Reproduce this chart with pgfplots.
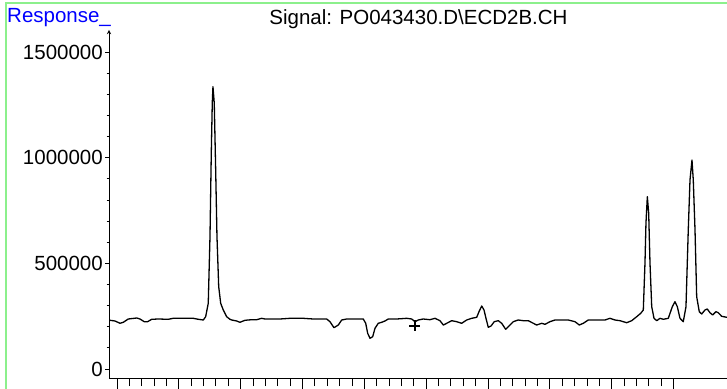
\documentclass[border=0pt]{standalone}
\usepackage{fontspec}
\setmainfont{Liberation Sans}
\usepackage{pgfplots}
\usepackage{pgfplotstable}
\pgfplotsset{compat=1.18}

\definecolor{framegreen}{RGB}{140,240,140}
\definecolor{respblue}{RGB}{0,0,255}

% signal trace: x in major-tick units, y in response counts
\pgfplotstableread{
x y
-0.113 230500
-0.032 227200
0.049 216300
0.102 221000
0.183 236600
0.319 241400
0.372 236600
0.441 223900
0.496 223900
0.561 235200
0.668 236600
0.830 235200
0.910 239900
1.234 239900
1.315 235200
1.396 231900
1.434 247500
1.476 310900
1.504 626100
1.525 1022200
1.541 1258900
1.552 1336000
1.573 1258900
1.596 941800
1.617 626100
1.645 389500
1.677 310900
1.719 279200
1.774 247500
1.827 235200
1.855 231900
1.936 227200
1.989 221000
2.070 230500
2.178 233300
2.259 233300
2.340 239900
2.393 236600
2.528 236600
2.636 236600
2.798 239900
3.013 239900
3.174 236600
3.391 236600
3.444 223900
3.509 195500
3.579 208200
3.634 231900
3.714 236600
3.983 236600
4.022 216300
4.054 169000
4.091 145300
4.135 152900
4.172 192600
4.225 216300
4.280 221000
4.334 227200
4.387 236600
4.523 236600
4.685 239900
4.766 236600
4.819 223900
4.872 231900
4.953 236600
5.061 233300
5.142 239900
5.223 228600
5.277 208200
5.332 216300
5.412 228600
5.493 223900
5.574 216300
5.655 231900
5.736 239900
5.817 244700
5.854 271200
5.898 298200
5.935 279200
5.967 239900
6.004 197300
6.048 203500
6.101 223900
6.166 228600
6.221 216300
6.285 187900
6.339 203500
6.408 223900
6.489 231900
6.570 228600
6.651 228600
6.732 216300
6.787 208200
6.868 216300
6.921 211500
7.002 223900
7.083 231900
7.298 231900
7.406 223900
7.476 208200
7.540 216300
7.621 231900
7.783 231900
7.891 231900
7.972 239900
8.053 231900
8.134 228600
8.242 219100
8.323 228600
8.404 247500
8.469 263600
8.511 279200
8.538 501700
8.554 691000
8.576 815400
8.598 736900
8.619 501700
8.647 294800
8.684 239900
8.728 228600
8.781 239900
8.834 235200
8.915 239900
8.980 294800
9.023 318500
9.061 294800
9.104 239900
9.157 223900
9.201 294800
9.238 657800
9.266 894500
9.298 989100
9.319 894500
9.347 657800
9.374 342200
9.416 271200
9.455 260300
9.508 279200
9.545 284000
9.589 266400
9.632 255600
9.686 271200
9.723 266400
9.778 249400
9.859 244700
9.944 241400
}\signal

\begin{document}
\begin{tikzpicture}[x=1pt,y=1pt]
\useasboundingbox (0,0) rectangle (727,388);
\clip (0,0) rectangle (727,388);

\pgfplotsset{
  chrom/.style={
    scale only axis,
    width=623.3pt, height=348pt,
    at={(109pt,10pt)}, anchor=south west,
    xmin=-0.129, xmax=9.95,
    ymin=-42600, ymax=1604300,
    axis line style={-, line width=0.9pt},
    every tick/.style={black, line width=0.9pt},
    tick label style={font=\fontsize{20.5}{24}\selectfont},
    /pgf/number format/assume math mode=true,
  }
}

% y axis with the response ticks, and the trace
\begin{axis}[chrom,
    axis y line=left, axis x line=bottom,
    xtick=\empty,
    ytick={0,500000,1000000,1500000},
    minor y tick num=4,
    major tick length=4pt, minor tick length=2.5pt,
    scaled y ticks=false,
    y tick label style={inner sep=2pt,
      /pgf/number format/fixed, /pgf/number format/1000 sep={}},
    tick align=outside,
]
\addplot[black, line width=1.3pt, line join=round] table {\signal};
\addplot[only marks, mark=+, mark size=5.5pt, line width=1.8pt, black]
  coordinates {(4.819,203500)};
\end{axis}

% x axis ticks (longer than the y ones)
\begin{axis}[chrom,
    hide y axis, axis x line=bottom,
    xtick={0,...,9}, minor x tick num=4,
    xticklabels={},
    major tick length=14pt, minor tick length=8pt,
    tick align=outside,
]
\end{axis}

\node[anchor=base west, text=respblue, inner sep=0,
  font=\fontsize{20.5}{24}\selectfont] at (7,365.3) {Response\_};
\node[anchor=base, inner sep=0,
  font=\fontsize{20.5}{24}\selectfont] at (418.5,363) {Signal: PO043430.D\textbackslash ECD2B.CH};

\draw[framegreen, line width=2pt] (5.8,-5) -- (5.8,385.2) -- (740,385.2);
\end{tikzpicture}
\end{document}
